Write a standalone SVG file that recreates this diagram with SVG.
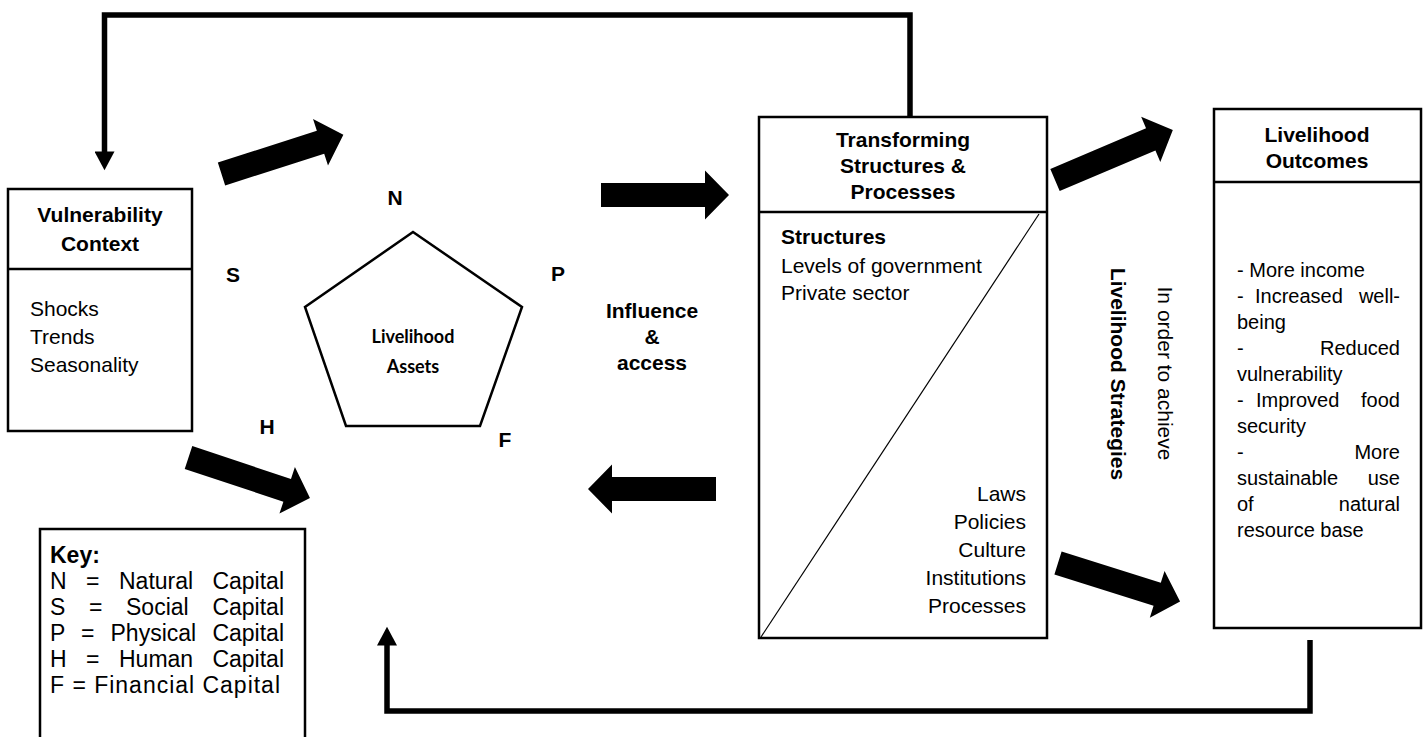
<svg xmlns="http://www.w3.org/2000/svg" xmlns:xlink="http://www.w3.org/1999/xlink" width="1428" height="737" viewBox="0 0 1428 737">
<style>
.box{fill:#fff;stroke:#000;stroke-width:2.5}
.ln{fill:none;stroke:#000;stroke-width:2.5}
.t{font-family:"Liberation Sans",Arial,sans-serif;font-size:21px;fill:#000}
.s20{font-size:20px}
.k{font-size:23px}
.b{font-weight:bold}
.c{text-anchor:middle}
.e{text-anchor:end}
.cal{font-family:Lato,"Liberation Sans",sans-serif;font-size:18px;font-weight:bold}
.loop{fill:none;stroke:#000;stroke-width:5.5}
.blk{fill:#000}
</style>
<defs>
<path id="blk" d="M0,-12 H104 V-24.5 L128,0 L104,24.5 V12 H0 Z"/>
<marker id="tri" markerUnits="userSpaceOnUse" markerWidth="20" markerHeight="20" viewBox="0 0 17 18" refX="0.5" refY="9" orient="auto">
<path d="M0,0 L17,9 L0,18 Z" fill="#000"/>
</marker>
</defs>
<rect width="1428" height="737" fill="#fff"/>

<g id="connectors">
<path class="loop" d="M910,116 V15 H104.5 V152" marker-end="url(#tri)"/>
<path class="loop" d="M1310,640 V711 H387 V645" marker-end="url(#tri)"/>
<use class="blk" xlink:href="#blk" transform="translate(221.5,174) rotate(-17.8)"/>
<use class="blk" xlink:href="#blk" transform="translate(188.5,457.5) rotate(18.4)"/>
<use class="blk" xlink:href="#blk" transform="translate(601,195)"/>
<use class="blk" xlink:href="#blk" transform="translate(716,489) rotate(180)"/>
<use class="blk" xlink:href="#blk" transform="translate(1055,180) rotate(-23)"/>
<use class="blk" xlink:href="#blk" transform="translate(1058,563) rotate(17.5)"/>
</g>

<g id="vulnerability">
<rect class="box" x="8" y="189" width="184" height="242"/>
<line class="ln" x1="8" y1="269" x2="192" y2="269"/>
<text class="t b c" x="100" y="222">Vulnerability</text>
<text class="t b c" x="100" y="251">Context</text>
<text class="t" x="30" y="316">Shocks</text>
<text class="t" x="30" y="344">Trends</text>
<text class="t" x="30" y="372">Seasonality</text>
</g>

<g id="assets">
<polygon class="box" points="413,232 522,307 480,426 346,426 305,307"/>
<text class="cal c" x="413" y="343">Livelihood</text>
<text class="cal c" x="413" y="373">Assets</text>
<text class="t b c" x="395" y="205">N</text>
<text class="t b c" x="233" y="282">S</text>
<text class="t b c" x="558" y="281">P</text>
<text class="t b c" x="267" y="434">H</text>
<text class="t b c" x="505" y="447">F</text>
</g>

<g id="influence">
<text class="t b c" x="652" y="318">Influence</text>
<text class="t b c" x="652" y="344">&amp;</text>
<text class="t b c" x="652" y="370">access</text>
</g>

<g id="transforming">
<rect class="box" x="759" y="117" width="288" height="521"/>
<line class="ln" x1="759" y1="212" x2="1047" y2="212"/>
<line x1="761" y1="637" x2="1039" y2="214" stroke="#000" stroke-width="1.2"/>
<text class="t b c" x="903" y="147">Transforming</text>
<text class="t b c" x="903" y="173">Structures &amp;</text>
<text class="t b c" x="903" y="199">Processes</text>
<text class="t b" x="781" y="244">Structures</text>
<text class="t" x="781" y="273">Levels of government</text>
<text class="t" x="781" y="300">Private sector</text>
<text class="t e" x="1026" y="501">Laws</text>
<text class="t e" x="1026" y="529">Policies</text>
<text class="t e" x="1026" y="557">Culture</text>
<text class="t e" x="1026" y="585">Institutions</text>
<text class="t e" x="1026" y="613">Processes</text>
</g>

<g id="strategies">
<text class="t b c" transform="translate(1111,374) rotate(90)">Livelihood Strategies</text>
<text class="t c" transform="translate(1157.5,373.5) rotate(90)">In order to achieve</text>
</g>

<g id="outcomes">
<rect class="box" x="1214" y="109" width="207" height="519"/>
<line class="ln" x1="1214" y1="182" x2="1421" y2="182"/>
<text class="t b c" x="1317" y="142">Livelihood</text>
<text class="t b c" x="1317" y="168">Outcomes</text>
<text class="t s20" x="1237" y="277">- More income</text>
<text class="t s20" x="1237" y="303">-</text>
<text class="t s20" x="1255" y="303">Increased</text>
<text class="t s20 e" x="1400" y="303">well-</text>
<text class="t s20" x="1237" y="329">being</text>
<text class="t s20" x="1237" y="355">-</text>
<text class="t s20 e" x="1400" y="355">Reduced</text>
<text class="t s20" x="1237" y="381">vulnerability</text>
<text class="t s20" x="1237" y="407">-</text>
<text class="t s20" x="1256" y="407">Improved</text>
<text class="t s20 e" x="1400" y="407">food</text>
<text class="t s20" x="1237" y="433">security</text>
<text class="t s20" x="1237" y="459">-</text>
<text class="t s20 e" x="1400" y="459">More</text>
<text class="t s20" x="1237" y="485">sustainable</text>
<text class="t s20 e" x="1400" y="485">use</text>
<text class="t s20" x="1237" y="511">of</text>
<text class="t s20 e" x="1400" y="511">natural</text>
<text class="t s20" x="1237" y="537">resource base</text>
</g>

<g id="key">
<rect class="box" x="40" y="529" width="265" height="220"/>
<text class="t k b" x="50" y="563">Key:</text>
<text class="t k" x="50" y="589">N</text>
<text class="t k" x="86" y="589">=</text>
<text class="t k" x="119" y="589">Natural</text>
<text class="t k e" x="284" y="589">Capital</text>
<text class="t k" x="50" y="615">S</text>
<text class="t k" x="89" y="615">=</text>
<text class="t k" x="126" y="615">Social</text>
<text class="t k e" x="284" y="615">Capital</text>
<text class="t k" x="50" y="641">P</text>
<text class="t k" x="81" y="641">=</text>
<text class="t k" x="110.5" y="641">Physical</text>
<text class="t k e" x="284" y="641">Capital</text>
<text class="t k" x="50" y="667">H</text>
<text class="t k" x="86" y="667">=</text>
<text class="t k" x="119" y="667">Human</text>
<text class="t k e" x="284" y="667">Capital</text>
<text class="t k" x="50" y="693" textLength="230" lengthAdjust="spacing">F = Financial Capital</text>
</g>
</svg>
